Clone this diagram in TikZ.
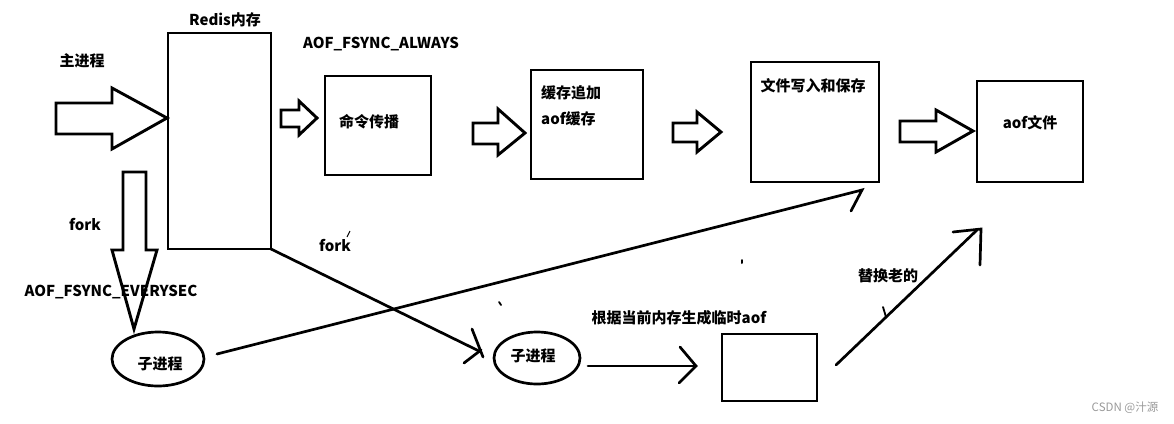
\documentclass[tikz,border=0pt]{standalone}
\usepackage{fontspec}
\setmainfont{Noto Sans CJK SC}
\begin{document}
\begin{tikzpicture}[x=1pt,y=-1pt,
  box/.style={draw,line width=2.9pt,inner sep=0pt},
  lbl/.style={font=\bfseries\fontsize{15}{17}\selectfont,inner sep=0pt},
  ln/.style={line width=2.7pt,line cap=round},
  barrow/.style={draw,line width=2.9pt,line join=miter,fill=white}]
\useasboundingbox (0,0) rectangle (1174,423);
% boxes
\draw[box] (168,33) rectangle (271,249);
\coordinate (redisbr) at (271,249);
\draw[box] (325,76) rectangle (431,175);
\draw[box] (531,70) rectangle (643,179);
\draw[box] (751,62) rectangle (879,182);
\draw[box] (977,81) rectangle (1083,182);
\draw[box] (722,334) rectangle (817,401);
% labels
\node[lbl] (redis) at (225,20) {Redis内存};
\node[lbl] (main) at (82,61) {主进程};
\node[lbl] (always) at (381,44) {AOF\_FSYNC\_ALWAYS};
\node[lbl] (cmd) at (369,122) {命令传播};
\node[lbl,anchor=west] (buf1) at (541,93) {缓存追加};
\node[lbl,anchor=west] (buf2) at (541,119) {aof缓存};
\node[lbl] (write) at (813,86) {文件写入和保存};
\node[lbl] (aoffile) at (1030,123) {aof文件};
\node[lbl] (fork1) at (85,225) {fork};
\node[lbl] (fork2) at (335,246) {fork};
\node[lbl] (gen) at (679,318) {根据当前内存生成临时aof};
\node[lbl] (replace) at (888,276) {替换老的};
\node[font=\fontsize{11.5}{13}\selectfont,text=black!40,inner sep=0pt] (wm) at (1125,408) {CSDN @汁源};
% ellipses
\draw[line width=2.7pt] (158,359) ellipse [x radius=46,y radius=27];
\node[lbl] (child1) at (160,364) {子进程};
\draw[line width=2.7pt] (537,358) ellipse [x radius=43,y radius=26];
\node[lbl] (child2) at (533,356) {子进程};
% block arrows
\draw[barrow] (56,103) -- (112,103) -- (112,88) -- (167,118) -- (112,149) -- (112,134) -- (56,134) -- cycle;
\draw[barrow] (123,172) -- (146,172) -- (146,250) -- (157,250) -- (134,329) -- (112,250) -- (123,250) -- cycle;
\node[lbl] (every) at (111,292) {AOF\_FSYNC\_EVERYSEC};
\draw[barrow] (281,110) -- (299,110) -- (299,101) -- (317,118) -- (299,135) -- (299,127) -- (281,127) -- cycle;
\draw[barrow] (473,123) -- (498,123) -- (498,109) -- (525,133) -- (498,155) -- (498,144) -- (473,144) -- cycle;
\draw[barrow] (673,123) -- (697,123) -- (697,112) -- (721,132) -- (697,152) -- (697,142) -- (673,142) -- cycle;
\draw[barrow] (900,121) -- (936,121) -- (936,110) -- (973,131) -- (936,152) -- (936,142) -- (900,142) -- cycle;
% connectors
\coordinate (c1s) at (217,354);
\coordinate (c1e) at (862,190);
\draw[ln] (c1s) -- (c1e) -- (851,211);
\coordinate (f2e) at (481,352);
\draw[ln] (redisbr) -- (f2e);
\draw[ln] (472,329) -- (483,357);
\draw[ln] (464,363) -- (481,350);
\coordinate (c2s) at (588,366);
\coordinate (c2e) at (696,366);
\draw[ln] (c2s) -- (c2e);
\draw[ln] (680,347) -- (696,366) -- (679,383);
\coordinate (c3s) at (836,365);
\coordinate (c3e) at (977,230);
\draw[ln] (c3s) -- (c3e);
\draw[ln] (953,232) -- (981,229) -- (980,265);
\draw[ln,line width=1.8pt] (883,307) -- (886,317);
% stray marks
\draw[line width=1pt] (347,237) -- (350,231);
\draw[line width=1.8pt,line cap=round] (499,302) -- (501,305);
\draw[line width=2pt,line cap=round] (742,260) -- (742,263);
\end{tikzpicture}
\end{document}
